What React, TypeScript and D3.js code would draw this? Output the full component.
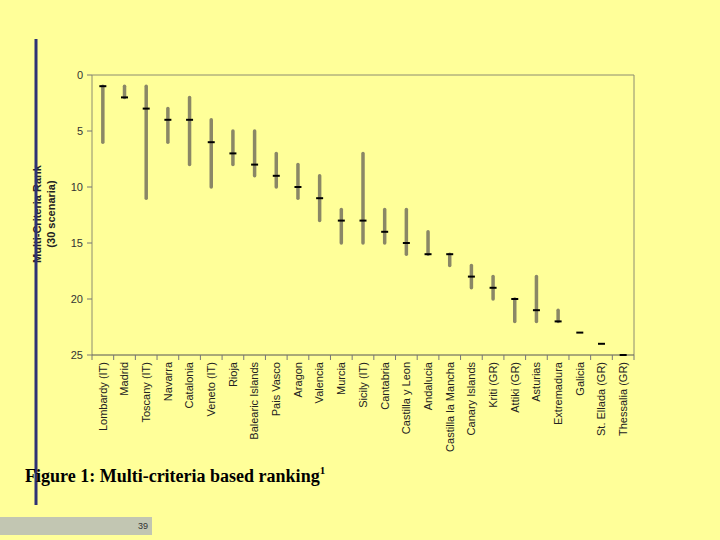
import React from "react";
import * as d3 from "d3";

const regions = ["Lombardy (IT)", "Madrid", "Toscany (IT)", "Navarra", "Catalonia", "Veneto (IT)", "Rioja", "Balearic Islands", "Pais Vasco", "Aragon", "Valencia", "Murcia", "Sicily (IT)", "Cantabria", "Castilla y Leon", "Andalucia", "Castilla la Mancha", "Canary Islands", "Kriti (GR)", "Attiki (GR)", "Asturias", "Extremadura", "Galicia", "St. Ellada (GR)", "Thessalia (GR)"];
const bestRank = [1, 1, 1, 3, 2, 4, 5, 5, 7, 8, 9, 12, 7, 12, 12, 14, 16, 17, 18, 20, 18, 21, 23, 24, 25];
const worstRank = [6, 2, 11, 6, 8, 10, 8, 9, 10, 11, 13, 15, 15, 15, 16, 16, 17, 19, 20, 22, 22, 22, 23, 24, 25];
const medianRank = [1, 2, 3, 4, 4, 6, 7, 8, 9, 10, 11, 13, 13, 14, 15, 16, 16, 18, 19, 20, 21, 22, 23, 24, 25];
const yTicks = [0, 5, 10, 15, 20, 25];

const L = 92, R = 634, T = 75, B = 355;

export default function App() {
  const x = d3.scaleBand<string>().domain(regions).range([L, R]).padding(0);
  const y = d3.scaleLinear().domain([0, 25]).range([T, B]);
  const bw = x.bandwidth();
  const font = "'Liberation Sans', Arial, sans-serif";
  return (
    <svg width={720} height={540} style={{ position: "absolute", left: 0, top: 0, background: "#ffff99" }}>
      <rect x={0} y={0} width={720} height={540} fill="#ffff99" />
      <line x1={L} x2={R} y1={T} y2={T} stroke="#8c8c70" strokeWidth={1} />
      <line x1={R} x2={R} y1={T} y2={B} stroke="#8c8c70" strokeWidth={1} />
      <line x1={L} x2={L} y1={T} y2={B} stroke="#8c8c70" strokeWidth={1} />
      <line x1={L} x2={R} y1={B} y2={B} stroke="#555" strokeWidth={1} />
      {yTicks.map((t) => (
        <g key={t}>
          <line x1={L - 5} x2={L} y1={y(t)} y2={y(t)} stroke="#777" />
          <text x={L - 9} y={y(t)} dy="0.35em" textAnchor="end" fontFamily={font} fontSize={11} fill="#333">{t}</text>
        </g>
      ))}
      {regions.map((r, i) => (
        <line key={"t" + i} x1={(x(r) as number) + bw} x2={(x(r) as number) + bw} y1={B} y2={B + 5} stroke="#777" />
      ))}
      <line x1={L} x2={L} y1={B} y2={B + 5} stroke="#777" />
      {regions.map((r, i) => {
        const cx = (x(r) as number) + bw / 2;
        return (
          <g key={r}>
            {worstRank[i] > bestRank[i] && (
              <line x1={cx} x2={cx} y1={y(bestRank[i])} y2={y(worstRank[i])} stroke="#8a8766" strokeWidth={3.5} strokeLinecap="round" />
            )}
            <line x1={cx - 3.5} x2={cx + 3.5} y1={y(medianRank[i])} y2={y(medianRank[i])} stroke="#000" strokeWidth={2} />
            <text transform={`translate(${cx},${B + 7}) rotate(-90)`} dy="0.35em" textAnchor="end" fontFamily={font} fontSize={11} fill="#222">{r}</text>
          </g>
        );
      })}
      <text transform="translate(41,214) rotate(-90)" textAnchor="middle" fontFamily={font} fontSize={11} fontWeight="bold" fill="#222">Multi-Criteria Rank</text>
      <text transform="translate(55,214) rotate(-90)" textAnchor="middle" fontFamily={font} fontSize={11} fontWeight="bold" fill="#222">(30 scenaria)</text>
      <line x1={36} x2={36} y1={39} y2={505} stroke="#2e3275" strokeWidth={3} />
      <text x={25} y={482} fontFamily="'Liberation Serif', 'Times New Roman', serif" fontSize={18} fontWeight="bold" fill="#000">
        Figure 1: Multi-criteria based ranking<tspan dy={-8} fontSize={11}>1</tspan>
      </text>
      <rect x={0} y={517} width={152} height={18} fill="#c2c6b2" />
      <text x={138} y={526} dy="0.35em" fontFamily={font} fontSize={9} fill="#333">39</text>
    </svg>
  );
}
